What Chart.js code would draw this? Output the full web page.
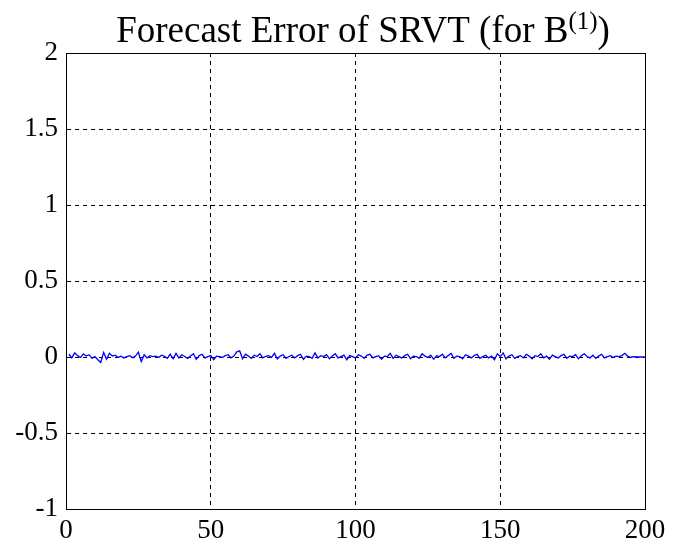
<!DOCTYPE html>
<html>
<head>
<meta charset="utf-8">
<script src="https://cdn.jsdelivr.net/npm/chart.js@4/dist/chart.umd.min.js"></script>
<style>
  html, body { margin: 0; padding: 0; background: #fff; }
  canvas { display: block; }
</style>
</head>
<body>
<canvas id="chart" width="681" height="548"></canvas>
<script>
"use strict";

// forecast error per step (1..200)
const errors = [
  0.018, -0.006, 0.027, 0.009, -0.003, 0.021, 0.006, 0.015, -0.009, 0.003,
  -0.018, -0.036, 0.030, -0.015, 0.024, 0.006, 0.012, -0.003, 0.005, -0.006,
  0.003, 0.009, -0.005, 0.006, 0.032, -0.030, 0.015, -0.006, 0.009, 0.002,
  0.006, -0.003, 0.012, 0.005, -0.009, 0.018, -0.012, 0.024, -0.006, 0.015,
  0.003, -0.009, 0.006, 0.021, -0.015, 0.009, 0.018, -0.006, 0.003, 0.009,
  -0.018, 0.006, 0.003, -0.003, 0.009, 0.015, -0.006, 0.006, 0.034, 0.040,
  -0.012, 0.018, 0.006, -0.009, 0.012, 0.003, 0.021, -0.006, 0.005, 0.009,
  -0.003, 0.024, -0.012, 0.006, 0.015, -0.009, 0.003, 0.012, -0.006, 0.009,
  0.018, -0.015, 0.006, 0.003, -0.009, 0.027, -0.006, 0.009, 0.003, 0.015,
  -0.012, 0.006, 0.021, -0.006, 0.003, 0.012, -0.018, 0.009, 0.003, -0.006,
  0.015, 0.006, -0.009, 0.012, 0.018, -0.006, 0.003, 0.009, -0.015, 0.006,
  0.003, 0.024, -0.009, 0.012, 0.003, -0.006, 0.009, 0.018, -0.012, 0.006,
  0.003, -0.009, 0.021, 0.006, -0.003, 0.012, -0.015, 0.009, 0.003, 0.018,
  -0.006, 0.009, 0.024, -0.009, 0.006, 0.003, -0.012, 0.015, 0.006, -0.006,
  0.009, 0.018, -0.009, 0.003, 0.012, -0.006, 0.006, -0.018, 0.021, 0.003,
  0.027, -0.012, 0.006, 0.015, -0.009, 0.003, 0.009, -0.006, 0.018, 0.006,
  -0.012, 0.009, 0.003, 0.021, -0.006, 0.006, -0.015, 0.012, 0.003, -0.006,
  0.009, 0.018, -0.009, 0.006, 0.003, 0.015, -0.012, 0.009, 0.021, 0.003,
  -0.006, 0.012, -0.009, 0.006, 0.018, -0.006, 0.003, 0.009, -0.003, 0.006,
  0.003, 0.009, 0.024, 0.006, -0.003, 0.003, 0.000, 0.001, 0.000, 0.001
];
const steps = errors.map((e, i) => i + 1);

const xTicks = [0, 50, 100, 150, 200];
const yTicks = [-1, -0.5, 0, 0.5, 1, 1.5, 2];

const titleText = "Forecast Error of SRVT (for B";
const titleSup = "(1)";

const serif = "'Liberation Serif', 'DejaVu Serif', serif";

// title with superscript and the full box around the plot
const framePlugin = {
  id: "frame",
  afterDraw(chart) {
    const ctx = chart.ctx;
    const a = chart.chartArea;
    ctx.save();
    ctx.strokeStyle = "#000";
    ctx.lineWidth = 1;
    ctx.setLineDash([]);
    ctx.strokeRect(Math.round(a.left) + 0.5, Math.round(a.top) + 0.5,
      Math.round(a.right - a.left), Math.round(a.bottom - a.top));

    ctx.fillStyle = "#000";
    ctx.textBaseline = "alphabetic";
    ctx.font = "37px " + serif;
    const w1 = ctx.measureText(titleText).width;
    const w3 = ctx.measureText(")").width;
    ctx.font = "25px " + serif;
    const w2 = ctx.measureText(titleSup).width;
    let x = 363 - (w1 + w2 + w3) / 2;
    const base = 42;
    ctx.font = "37px " + serif;
    ctx.fillText(titleText, x, base);
    x += w1;
    ctx.font = "25px " + serif;
    ctx.fillText(titleSup, x, base - 13);
    x += w2;
    ctx.font = "37px " + serif;
    ctx.fillText(")", x, base);
    ctx.restore();
  }
};

const bg = {
  id: "bg",
  beforeDraw(chart) {
    const ctx = chart.ctx;
    ctx.save();
    ctx.fillStyle = "#fff";
    ctx.fillRect(0, 0, chart.width, chart.height);
    ctx.restore();
  }
};

const data = {
  datasets: [{
    data: steps.map((s, i) => ({ x: s, y: errors[i] })),
    borderColor: "#0000ff",
    borderWidth: 1.3,
    pointRadius: 0,
    tension: 0,
    fill: false
  }]
};

const config = {
  type: "line",
  data: data,
  options: {
    responsive: false,
    animation: false,
    layout: { padding: { top: 53, right: 36, left: 0, bottom: 0 } },
    plugins: { legend: { display: false }, tooltip: { enabled: false } },
    scales: {
      x: {
        type: "linear",
        min: 0,
        max: 200,
        afterFit(scale) { scale.height = 39; },
        afterBuildTicks(scale) { scale.ticks = xTicks.map(v => ({ value: v })); },
        grid: { color: "#000", lineWidth: 1, drawTicks: false },
        border: { display: true, color: "#000", dash: [4, 4], width: 1 },
        ticks: {
          color: "#000",
          font: { family: serif, size: 27 },
          padding: 6,
          maxRotation: 0,
          callback: v => String(v)
        }
      },
      y: {
        type: "linear",
        min: -1,
        max: 2,
        afterFit(scale) { scale.width = 66; },
        afterBuildTicks(scale) { scale.ticks = yTicks.map(v => ({ value: v })); },
        grid: { color: "#000", lineWidth: 1, drawTicks: false },
        border: { display: true, color: "#000", dash: [4, 4], width: 1 },
        ticks: {
          color: "#000",
          font: { family: serif, size: 27 },
          padding: 8,
          callback: v => String(v)
        }
      }
    }
  },
  plugins: [bg, framePlugin]
};

const chart = new Chart(document.getElementById("chart"), config);
</script>
</body>
</html>
